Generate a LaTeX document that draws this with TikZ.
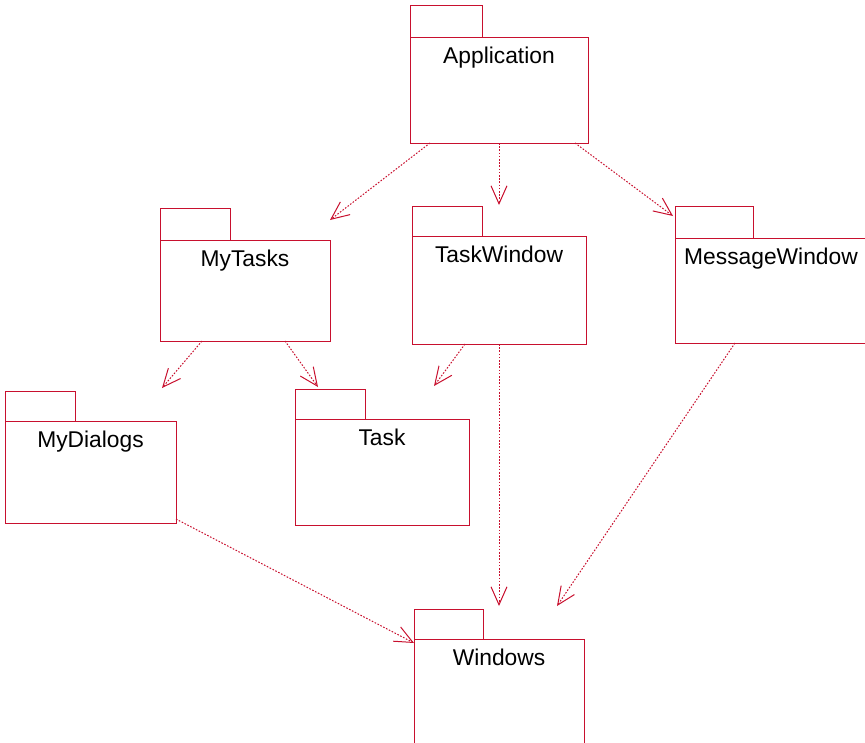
\documentclass[tikz,border=0pt]{standalone}
\usepackage{fontspec}
\setmainfont{Liberation Sans}
\usetikzlibrary{arrows.meta}
\definecolor{pkgred}{RGB}{200,16,46}
\tikzset{
  pkgbody/.style={draw=pkgred, line width=1pt, anchor=north west, inner sep=0pt, outer sep=0pt},
  pkgtab/.style={draw=pkgred, line width=1pt},
  pkgname/.style={anchor=north, inner sep=0pt, yshift=-10pt, font=\fontsize{22.8}{27}\selectfont},
  dep/.style={pkgred, line width=1pt, dash pattern=on 1.6pt off 1.6pt,
    -{Straight Barb[length=18pt,width=16pt,line width=1pt]}}
}
% package: name, x, y (top left of body), width, height, tab width, tab height, text
\newcommand{\pkg}[8]{%
  \node[pkgbody, minimum width=#4pt, minimum height=#5pt,
        label={[pkgname]north:#8}] (#1) at (#2,#3) {};
  \draw[pkgtab] (#1.north west) rectangle ++(#6,-#7);
}
\begin{document}
\begin{tikzpicture}[x=1pt,y=-1pt]
	\useasboundingbox (0,0) rectangle (865,742);

	\pkg{app}{410}{37}{178}{106}{72}{32}{Application}
	\pkg{mytasks}{160}{240}{170}{101}{70}{32}{MyTasks}
	\pkg{taskwin}{412}{236}{174}{108}{70}{30}{TaskWindow}
	\pkg{msgwin}{675}{238}{192}{105}{78}{32}{MessageWindow}
	\pkg{mydialogs}{5}{421}{171}{102}{70}{30}{MyDialogs}
	\pkg{task}{295}{419}{174}{106}{70}{30}{Task}
	\pkg{windows}{414}{639}{170}{130}{69}{30}{Windows}

	% dependencies
	\draw[dep] ([xshift=20pt]app.south west) -- ([yshift=20pt]mytasks.north east);
	\draw[dep] (app.south) -- ([yshift=31pt]taskwin.north);
	\draw[dep] ([xshift=-13pt]app.south east) -- ([xshift=-2pt,yshift=22pt]msgwin.north west);
	\draw[dep] ([xshift=42pt]mytasks.south west) -- ([xshift=157pt,yshift=33pt]mydialogs.north west);
	\draw[dep] ([xshift=-45pt]mytasks.south east) -- ([xshift=23pt,yshift=32pt]task.north west);
	\draw[dep] ([xshift=53pt]taskwin.south west) -- ([xshift=139pt,yshift=33pt]task.north west);
	\draw[dep] (taskwin.south) -- ([yshift=33pt]windows.north);
	\draw[dep] ([xshift=60pt]msgwin.south west) -- ([xshift=143pt,yshift=33pt]windows.north west);
	\draw[dep] ([yshift=4pt]mydialogs.south east) -- ([yshift=-4pt]windows.north west);
\end{tikzpicture}
\end{document}
